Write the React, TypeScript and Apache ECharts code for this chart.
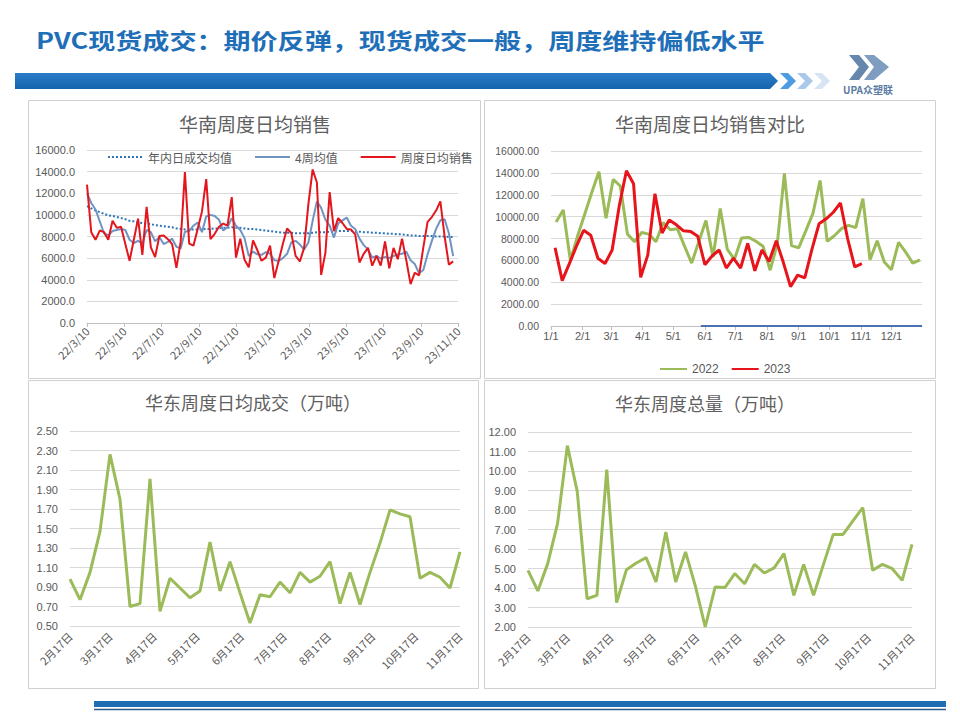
import { useEffect, useRef } from "react";
import * as echarts from "echarts";

// ---------------- text ----------------
const HEADER_TITLE = "PVC现货成交：期价反弹，现货成交一般，周度维持偏低水平";
const LOGO_TEXT = "UPA众塑联";

// ---------------- chart 1: 华南周度日均销售 ----------------
const southTitle = "华南周度日均销售";
const southLegend = ["年内日成交均值", "4周均值", "周度日均销售"];
const southStart = "2022-03-10";
const southTickLabels = ["22/3/10", "22/5/10", "22/7/10", "22/9/10", "22/11/10", "23/1/10", "23/3/10", "23/5/10", "23/7/10", "23/9/10", "23/11/10"];
const southYearAvg = [
  10800, 10600, 10400, 10250, 10100, 9950, 9900, 9800, 9700, 9600,
  9450, 9400, 9300, 9250, 9200, 9150, 9050, 9000, 8950, 8900,
  8850, 8750, 8700, 8650, 8650, 8650, 8650, 8650, 8700, 8700,
  8750, 8750, 8800, 8800, 8850, 8800, 8800, 8750, 8700, 8700,
  8650, 8600, 8550,
  8500, 8450, 8400, 8350, 8350, 8350, 8300, 8300, 8300, 8300,
  8350, 8400, 8400, 8400, 8450, 8450, 8500, 8500, 8500, 8500,
  8450, 8450, 8400, 8400, 8350, 8350, 8300, 8300, 8250, 8250,
  8200, 8200, 8150, 8100, 8100, 8050, 8050, 8050, 8050, 8000,
  8000, 8000, 7950, 7950,
];
const south4Week = [
  12000, 11100, 10500, 9400, 8300, 8100, 8500, 8600, 8700, 8600,
  7700, 7400, 7600, 7350, 8600, 8400, 7550, 7950, 7300, 7500,
  7800, 7050, 6900, 8450, 8500, 9000, 9300, 8400, 9850, 10000,
  9900, 9550, 8550, 8850, 9700, 9000, 8600, 7850, 6200, 6600,
  6350, 6300, 6550,
  6400, 5800, 5750, 6000, 6400, 7450, 7600, 7250, 6800, 7450,
  9450, 11250, 10650, 9550, 9000, 7900, 9200, 9500, 9750, 9000,
  8700, 7800, 7200, 6800, 6050, 6200, 5950, 6100, 6000, 6200,
  6350, 6400, 6600, 5800, 5450, 4600, 4900, 6350, 7600, 8700,
  9500, 9600, 8300, 6200,
];

// ---------------- chart 2: 华南周度日均销售对比 ----------------
const compareTitle = "华南周度日均销售对比";
const compareMonthLabels = ["1/1", "2/1", "3/1", "4/1", "5/1", "6/1", "7/1", "8/1", "9/1", "10/1", "11/1", "12/1"];
const start2022 = "2022-01-06";
const start2023 = "2023-01-05";
const south2022 = [
  9500, 10600, 6000, 8200, 10200, 12200, 14100, 9850, 13400, 12800,
  8400, 7700, 8550, 8400, 7700, 9450, 8800, 8900, 7300, 5750,
  7700, 9650, 6300, 10750, 7000, 6100, 8050, 8100, 7750, 7300,
  5100, 7500, 13950, 7350, 7150, 8700, 10300, 13300, 7750, 8250,
  8900, 9200, 9000, 11650, 6050, 7800, 5850, 5150, 7650, 6750,
  5750, 6050,
];
const south2023 = [
  7150, 4150, 5700, 7300, 8750, 8300, 6200, 5700, 6950, 11000,
  14200, 13000, 4450, 6500, 12100, 8500, 9700, 9250, 8700, 8650,
  8200, 5600, 6400, 6950, 5300, 6200, 5300, 7550, 5050, 6950,
  5900, 7800, 5800, 3600, 4650, 4400, 7000, 9350, 9800, 10400,
  11250, 8000, 5400, 5700,
];
const flatLineDates = ["05-28", "12-31"];
const flatLineValues = [0, 0];
const compareLegend = ["2022", "2023"];

// ---------------- charts 3 & 4: 华东 ----------------
const eastDailyTitle = "华东周度日均成交（万吨）";
const eastTotalTitle = "华东周度总量（万吨）";
const eastStart = "2023-02-17";
const eastTickLabels = ["2月17日", "3月17日", "4月17日", "5月17日", "6月17日", "7月17日", "8月17日", "9月17日", "10月17日", "11月17日"];
const eastDaily = [
  0.98, 0.77, 1.05, 1.47, 2.26, 1.80, 0.70, 0.73, 2.01, 0.65,
  0.99, 0.89, 0.79, 0.86, 1.36, 0.86, 1.16, 0.84, 0.53, 0.82,
  0.80, 0.95, 0.84, 1.05, 0.95, 1.01, 1.16, 0.73, 1.05, 0.72,
  1.05, 1.35, 1.69, 1.65, 1.62, 0.99, 1.05, 1.00, 0.89, 1.26,
];
const eastTotal = [
  4.9, 3.85, 5.25, 7.3, 11.3, 8.95, 3.45, 3.62, 10.07, 3.25,
  4.94, 5.28, 5.56, 4.31, 6.87, 4.31, 5.85, 4.1, 2.0, 4.05,
  4.02, 4.74, 4.22, 5.21, 4.77, 5.03, 5.76, 3.62, 5.21, 3.62,
  5.2, 6.75, 6.75, 7.44, 8.12, 4.91, 5.21, 4.99, 4.39, 6.24,
];
const eastDailyTicks = ["0.50", "0.70", "0.90", "1.10", "1.30", "1.50", "1.70", "1.90", "2.10", "2.30", "2.50"];
const eastTotalTicks = ["2.00", "3.00", "4.00", "5.00", "6.00", "7.00", "8.00", "9.00", "10.00", "11.00", "12.00"];

// ---------------- helpers ----------------
const DAY = 86400000;
const isoDay = (s: string) => {
  const [y, m, d] = s.split("-").map(Number);
  return Date.UTC(y, m - 1, d) / DAY;
};
const weeklyDays = (start: string, n: number) => Array.from({ length: n }, (_, i) => isoDay(start) + 7 * i);

const GRAY = "#595959";
const GRID = "#d9d9d9";
const CJK = '"Noto Sans CJK SC", sans-serif';
const NUM = '"Liberation Sans", "Noto Sans CJK SC", sans-serif';

function buildOption() {
  // chart 1
  const southDays = weeklyDays(southStart, south4Week.length);
  const offset2022 = (isoDay(southStart) - isoDay(start2022)) / 7;
  const southWeekly = south2022.slice(offset2022).concat(south2023);
  const southTickDays = southTickLabels.map((l) => {
    const [yy, m, d] = l.split("/").map(Number);
    return Date.UTC(2000 + yy, m - 1, d) / DAY;
  });
  const southLabelMap = new Map(southTickDays.map((d, i) => [d, southTickLabels[i]]));

  // chart 2
  const doy = (year: number, d: number) => d - Date.UTC(year, 0, 1) / DAY;
  const days2022 = weeklyDays(start2022, south2022.length).map((d) => doy(2022, d));
  const days2023 = weeklyDays(start2023, south2023.length).map((d) => doy(2023, d));
  const monthTickDays = compareMonthLabels.map((l) => {
    const [m, d] = l.split("/").map(Number);
    return (Date.UTC(2023, m - 1, d) - Date.UTC(2023, 0, 1)) / DAY;
  });
  const monthLabelMap = new Map(monthTickDays.map((d, i) => [d, compareMonthLabels[i]]));
  const flatDays = flatLineDates.map((s) => {
    const [m, d] = s.split("-").map(Number);
    return (Date.UTC(2023, m - 1, d) - Date.UTC(2023, 0, 1)) / DAY;
  });

  // charts 3/4
  const eastDays = weeklyDays(eastStart, eastDaily.length);
  const eastTickDays = eastTickLabels.map((l) => {
    const m = parseInt(l, 10);
    const d = parseInt(l.split("月")[1], 10);
    return Date.UTC(2023, m - 1, d) / DAY;
  });
  const eastLabelMap = new Map(eastTickDays.map((d, i) => [d, eastTickLabels[i]]));

  const pairs = (xs: number[], ys: number[]) => xs.map((x, i) => [x, ys[i]]);

  const xAxisFor = (
    gridIndex: number,
    min: number,
    max: number,
    ticks: number[],
    map: Map<number, string>,
    rotate: number,
    margin: number,
    showLine: boolean,
    fontSize: number
  ) => ({
    type: "value",
    gridIndex,
    min,
    max,
    axisLine: { show: showLine, onZero: false, lineStyle: { color: "#bfbfbf", width: 1 } },
    axisTick: { show: showLine, customValues: ticks, length: 4, lineStyle: { color: "#bfbfbf" } },
    splitLine: { show: false },
    axisLabel: {
      customValues: ticks,
      formatter: (v: number) => map.get(Math.round(v)) ?? "",
      rotate,
      margin,
      color: GRAY,
      fontSize,
      fontFamily: rotate ? CJK : NUM,
      hideOverlap: false,
    },
  });

  const yAxisFor = (gridIndex: number, min: number, max: number, interval: number, digits: number, custom?: number[], fontSize = 11) => ({
    type: "value",
    gridIndex,
    min,
    max,
    interval,
    axisLine: { show: false },
    axisTick: { show: false, ...(custom ? { customValues: custom } : {}) },
    splitLine: { show: true, lineStyle: { color: GRID, width: 1 } },
    axisLabel: {
      ...(custom ? { customValues: custom } : {}),
      formatter: (v: number) => v.toFixed(digits),
      color: GRAY,
      fontSize,
      fontFamily: NUM,
      margin: 12,
    },
  });

  const chevron = (x0: number, color: string) => ({
    type: "polygon",
    shape: { points: [[x0, 73], [x0 + 8, 73], [x0 + 16, 81], [x0 + 8, 89], [x0, 89], [x0 + 8, 81]] },
    style: { fill: color },
  });

  const panel = (x: number, y: number, w: number, h: number) => ({
    type: "rect",
    shape: { x, y, width: w, height: h },
    style: { fill: "none", stroke: "#d0d0d0", lineWidth: 1 },
    z: 0,
  });

  const chartTitle = (text: string, x: number, y: number, size: number) => ({
    type: "text",
    x,
    y,
    style: { text, fill: "#606060", fontSize: size, fontFamily: CJK, textAlign: "center", verticalAlign: "middle" },
  });

  const lineOnlyLegend = { itemStyle: { opacity: 0 }, lineStyle: { inactiveColor: "#ccc" } };

  return {
    animation: false,
    backgroundColor: "#ffffff",
    textStyle: { fontFamily: NUM },
    grid: [
      { left: 87, right: 502, top: 150, bottom: 397, outerBoundsMode: "none" },
      { left: 551, right: 38, top: 151, bottom: 394, outerBoundsMode: "none" },
      { left: 70, right: 500, top: 431, bottom: 94, outerBoundsMode: "none" },
      { left: 528, right: 48, top: 432, bottom: 93, outerBoundsMode: "none" },
    ],
    xAxis: [
      xAxisFor(0, isoDay(southStart), southTickDays[southTickDays.length - 1], southTickDays, southLabelMap, 45, 6, true, 11),
      xAxisFor(1, 0, 364, monthTickDays, monthLabelMap, 0, 4, true, 11),
      xAxisFor(2, eastDays[0], eastTickDays[eastTickDays.length - 1], eastTickDays, eastLabelMap, 45, 8, false, 11),
      xAxisFor(3, eastDays[0], eastTickDays[eastTickDays.length - 1], eastTickDays, eastLabelMap, 45, 8, false, 11),
    ],
    yAxis: [
      yAxisFor(0, 0, 16000, 2000, 1),
      yAxisFor(1, 0, 16000, 2000, 2, undefined, 10.5),
      yAxisFor(2, 0.5, 2.5, 0.2, 2, eastDailyTicks.map(Number)),
      yAxisFor(3, 2, 12, 1, 2, eastTotalTicks.map(Number)),
    ],
    legend: [
      {
        data: southLegend,
        left: 102,
        top: 146,
        itemWidth: 35,
        itemHeight: 10,
        itemGap: 22,
        ...lineOnlyLegend,
        textStyle: { color: GRAY, fontSize: 12, fontFamily: CJK },
      },
      {
        data: compareLegend,
        left: 654,
        top: 358,
        itemWidth: 27,
        itemHeight: 10,
        itemGap: 12,
        ...lineOnlyLegend,
        textStyle: { color: GRAY, fontSize: 12, fontFamily: NUM },
      },
    ],
    series: [
      {
        name: southLegend[0],
        type: "line",
        xAxisIndex: 0,
        yAxisIndex: 0,
        symbol: "none",
        color: "#2e75b6",
        lineStyle: { color: "#2e75b6", width: 2, type: "dotted" },
        data: pairs(southDays, southYearAvg),
      },
      {
        name: southLegend[1],
        type: "line",
        xAxisIndex: 0,
        yAxisIndex: 0,
        symbol: "none",
        color: "#7094c2",
        lineStyle: { color: "#7094c2", width: 2 },
        data: pairs(southDays, south4Week),
      },
      {
        name: southLegend[2],
        type: "line",
        xAxisIndex: 0,
        yAxisIndex: 0,
        symbol: "none",
        color: "#e3161d",
        lineStyle: { color: "#e3161d", width: 2 },
        data: pairs(southDays, southWeekly),
      },
      {
        name: "flat",
        type: "line",
        xAxisIndex: 1,
        yAxisIndex: 1,
        symbol: "none",
        color: "#4a72b0",
        lineStyle: { color: "#4a72b0", width: 2 },
        data: pairs(flatDays, flatLineValues),
      },
      {
        name: compareLegend[0],
        type: "line",
        xAxisIndex: 1,
        yAxisIndex: 1,
        symbol: "none",
        color: "#9bbb59",
        lineStyle: { color: "#9bbb59", width: 3 },
        data: pairs(days2022, south2022),
      },
      {
        name: compareLegend[1],
        type: "line",
        xAxisIndex: 1,
        yAxisIndex: 1,
        symbol: "none",
        color: "#e8141b",
        lineStyle: { color: "#e8141b", width: 3 },
        data: pairs(days2023, south2023),
      },
      {
        name: "eastDaily",
        type: "line",
        xAxisIndex: 2,
        yAxisIndex: 2,
        symbol: "none",
        color: "#9bbb59",
        lineStyle: { color: "#9bbb59", width: 3 },
        data: pairs(eastDays, eastDaily),
      },
      {
        name: "eastTotal",
        type: "line",
        xAxisIndex: 3,
        yAxisIndex: 3,
        symbol: "none",
        color: "#9bbb59",
        lineStyle: { color: "#9bbb59", width: 3 },
        data: pairs(eastDays, eastTotal),
      },
    ],
    graphic: [
      panel(28.5, 100.5, 452, 278),
      panel(484.5, 100.5, 451, 278),
      panel(28.5, 380.5, 450, 308),
      panel(484.5, 380.5, 451, 308),
      chartTitle(southTitle, 255, 123, 19),
      chartTitle(compareTitle, 710, 123, 19),
      chartTitle(eastDailyTitle, 253, 402, 18),
      chartTitle(eastTotalTitle, 705, 403, 18),
      {
        type: "text",
        x: 36,
        y: 39,
        scaleX: 1.23,
        style: { text: HEADER_TITLE, fill: "#1f6fb8", fontSize: 22, fontWeight: "bold", fontFamily: CJK, verticalAlign: "middle" },
      },
      {
        type: "polygon",
        shape: { points: [[15, 73], [770, 73], [778, 81], [770, 89], [15, 89]] },
        style: {
          fill: new echarts.graphic.LinearGradient(0, 0, 0, 1, [
            { offset: 0, color: "#2a7dc8" },
            { offset: 1, color: "#1563ad" },
          ]),
        },
      },
      chevron(780, "#4d9be0"),
      chevron(797, "#a9c8ea"),
      chevron(814, "#d6e4f3"),
      {
        type: "polygon",
        shape: { points: [[849, 55], [859, 55], [869, 67], [859, 80], [849, 80], [859, 67]] },
        style: { fill: "#6586ad" },
      },
      {
        type: "polygon",
        shape: { points: [[864, 55], [874, 55], [889, 67], [874, 80], [864, 80], [874, 67]] },
        style: { fill: "#7f9dc0" },
      },
      {
        type: "text",
        x: 868,
        y: 89,
        style: { text: LOGO_TEXT, fill: "#5b7ba3", fontSize: 10, fontWeight: "bold", fontFamily: CJK, textAlign: "center", verticalAlign: "middle" },
      },
      {
        type: "rect",
        shape: { x: 94, y: 701, width: 852, height: 6 },
        style: { fill: "#1f6db5" },
      },
      {
        type: "line",
        shape: { x1: 94, y1: 709.5, x2: 946, y2: 709.5 },
        style: { stroke: "#2a5d8c", lineWidth: 1.5 },
      },
    ],
  };
}

export default function App() {
  const ref = useRef<HTMLDivElement>(null);
  useEffect(() => {
    if (!ref.current) return;
    const chart = echarts.init(ref.current, null, { renderer: "svg" });
    chart.setOption(buildOption() as any);
    return () => chart.dispose();
  }, []);
  return (
    <div
      ref={ref}
      style={{ position: "fixed", left: 0, top: 0, width: 960, height: 720, background: "#fff" }}
    />
  );
}
